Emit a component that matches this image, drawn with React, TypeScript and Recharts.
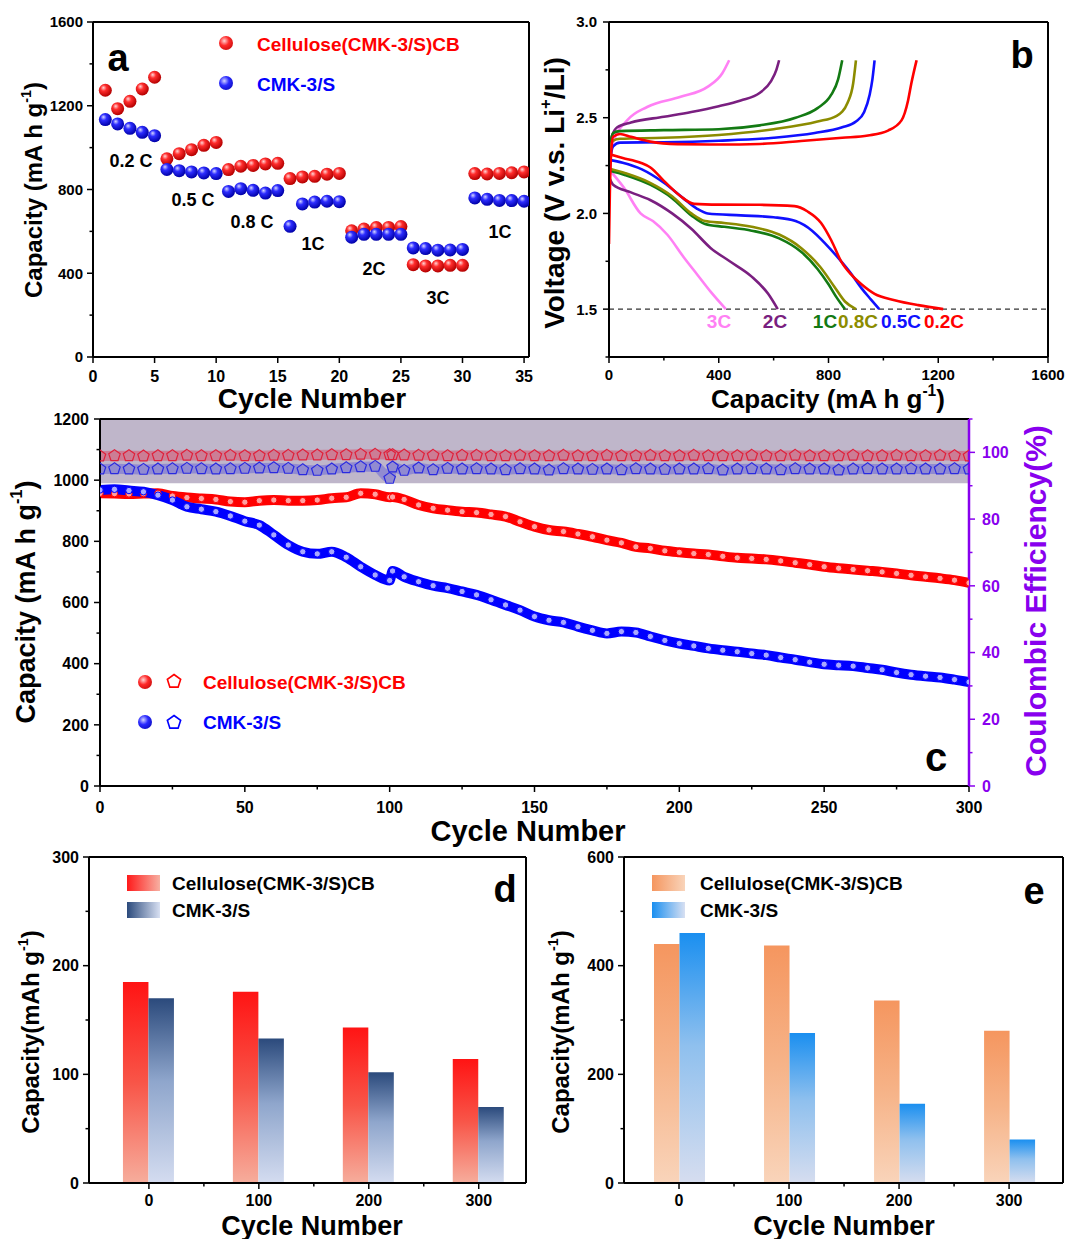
import React from 'react'
import {
  ScatterChart,
  Scatter,
  LineChart,
  Line,
  ComposedChart,
  BarChart,
  Bar,
  XAxis,
  YAxis,
  ReferenceLine,
  ReferenceArea,
} from 'recharts'

const FONT = 'Arial, "Liberation Sans", Helvetica, sans-serif'

// ---------- (a) rate capability ----------
const rateCycles = [1, 2, 3, 4, 5, 6, 7, 8, 9, 10, 11, 12, 13, 14, 15, 16, 17, 18, 19, 20, 21, 22, 23, 24, 25, 26, 27, 28, 29, 30, 31, 32, 33, 34, 35]
const rateCellulose = [1274, 1186, 1221, 1280, 1336, 947, 971, 990, 1011, 1025, 895, 911, 915, 922, 925, 852, 860, 863, 873, 877, 603, 611, 618, 619, 623, 441, 435, 435, 438, 438, 876, 874, 877, 880, 884]
const rateCmk = [1134, 1113, 1092, 1073, 1057, 896, 890, 884, 879, 876, 791, 804, 796, 783, 795, 624, 731, 740, 744, 742, 572, 586, 586, 586, 586, 521, 518, 510, 511, 514, 760, 753, 748, 747, 744]
const aXTicks = [0, 5, 10, 15, 20, 25, 30, 35]
const aYTicks = [0, 200, 400, 600, 800, 1000, 1200, 1400, 1600]
const aYMajor = [0, 400, 800, 1200, 1600]

// ---------- (b) charge / discharge profiles: [capacity, voltage] ----------
type Pt = [number, number]
const dis02: Pt[] = [[0, 2.31], [50, 2.29], [115, 2.265], [151, 2.24], [200, 2.17], [261, 2.09], [310, 2.05], [400, 2.046], [550, 2.045], [676, 2.038], [724, 2.01], [773, 1.95], [810, 1.86], [846, 1.75], [883, 1.68], [920, 1.63], [968, 1.58], [1041, 1.547], [1127, 1.521], [1218, 1.5]]
const chg02: Pt[] = [[0, 1.84], [3, 2.1], [8, 2.32], [15, 2.4], [40, 2.415], [80, 2.4], [150, 2.375], [250, 2.362], [400, 2.36], [550, 2.363], [700, 2.378], [850, 2.395], [944, 2.407], [1017, 2.433], [1066, 2.486], [1090, 2.59], [1102, 2.68], [1121, 2.8]]
const dis05: Pt[] = [[0, 2.28], [50, 2.265], [120, 2.23], [200, 2.16], [270, 2.08], [320, 2.025], [360, 2.0], [480, 1.99], [600, 1.98], [680, 1.96], [740, 1.91], [790, 1.84], [840, 1.76], [880, 1.69], [920, 1.61], [955, 1.55], [985, 1.5]]
const chg05: Pt[] = [[0, 2.1], [5, 2.28], [15, 2.35], [40, 2.37], [200, 2.372], [400, 2.38], [600, 2.395], [750, 2.42], [850, 2.45], [900, 2.48], [930, 2.53], [950, 2.62], [960, 2.7], [968, 2.8]]
const dis08: Pt[] = [[0, 2.235], [60, 2.21], [150, 2.16], [230, 2.09], [300, 2.0], [350, 1.96], [420, 1.95], [520, 1.93], [620, 1.89], [700, 1.82], [770, 1.72], [820, 1.62], [860, 1.54], [900, 1.5]]
const chg08: Pt[] = [[0, 2.22], [5, 2.34], [15, 2.38], [40, 2.39], [200, 2.395], [400, 2.41], [600, 2.44], [760, 2.48], [830, 2.51], [870, 2.58], [890, 2.68], [900, 2.8]]
const dis1: Pt[] = [[0, 2.225], [60, 2.2], [150, 2.15], [230, 2.08], [300, 1.99], [350, 1.945], [420, 1.93], [520, 1.91], [620, 1.87], [700, 1.8], [760, 1.71], [800, 1.63], [830, 1.56], [860, 1.5]]
const chg1: Pt[] = [[0, 2.2], [5, 2.36], [15, 2.42], [40, 2.43], [200, 2.435], [400, 2.44], [550, 2.46], [680, 2.5], [760, 2.55], [810, 2.62], [835, 2.7], [850, 2.8]]
const dis2: Pt[] = [[0, 2.19], [15, 2.15], [80, 2.11], [150, 2.07], [230, 2.0], [300, 1.92], [370, 1.82], [440, 1.75], [520, 1.67], [580, 1.58], [615, 1.5]]
const chg2: Pt[] = [[0, 2.3], [10, 2.4], [30, 2.45], [80, 2.475], [200, 2.505], [300, 2.53], [400, 2.56], [480, 2.59], [550, 2.63], [590, 2.69], [610, 2.75], [620, 2.8]]
const dis3: Pt[] = [[0, 2.23], [54, 2.135], [115, 2.0], [160, 1.96], [212, 1.89], [273, 1.77], [322, 1.68], [371, 1.59], [426, 1.5]]
const chg3: Pt[] = [[0, 2.25], [15, 2.37], [66, 2.486], [139, 2.556], [261, 2.609], [359, 2.661], [413, 2.732], [438, 2.8]]
const bXTicks = [0, 200, 400, 600, 800, 1000, 1200, 1400, 1600]
const bXMajor = [0, 400, 800, 1200, 1600]
const bYTicks = [1.25, 1.5, 1.75, 2.0, 2.25, 2.5, 2.75, 3.0]
const bYMajor = [1.5, 2.0, 2.5, 3.0]

const C_PINK = '#ff80f4'
const C_PURPLE = '#7a1f80'
const C_GREEN = '#137a13'
const C_OLIVE = '#8c8c00'
const C_BLUE = '#1010ff'
const C_RED = '#ff0000'

// ---------- (c) long cycling ----------
const cCycles = [0, 5, 10, 15, 20, 25, 30, 35, 40, 45, 50, 55, 60, 65, 70, 75, 80, 85, 90, 95, 100, 101, 105, 110, 115, 120, 125, 130, 135, 140, 145, 150, 155, 160, 165, 170, 175, 180, 185, 190, 195, 200, 205, 210, 215, 220, 225, 230, 235, 240, 245, 250, 255, 260, 265, 270, 275, 280, 285, 290, 295, 300]
const cCellulose = [
  957, 956, 955, 956, 957, 948, 943, 940, 937, 930,
  928, 933, 935, 933, 933, 935, 941, 944, 957, 954,
  944, 945, 937, 919, 908, 902, 897, 894, 888, 881,
  864, 848, 837, 832, 824, 815, 804, 795, 782, 777,
  769, 764, 760, 757, 751, 746, 744, 741, 736, 730,
  724, 717, 712, 708, 704, 700, 695, 689, 684, 679,
  673, 664,
]
const cCmk = [
  968, 970, 966, 962, 951, 935, 913, 905, 897, 883,
  866, 853, 821, 788, 766, 759, 766, 748, 717, 690,
  672, 703, 684, 668, 655, 647, 636, 625, 609, 592,
  575, 554, 542, 535, 521, 509, 499, 505, 502, 489,
  476, 466, 458, 450, 444, 439, 433, 428, 420, 413,
  405, 398, 395, 392, 386, 380, 371, 364, 359, 355,
  348, 340,
]
const cCelluloseCE = [
  98.9, 99.0, 99.0, 98.9, 99.0, 99.0, 99.1, 99.0, 99.0, 99.1,
  99.0, 99.0, 99.1, 99.1, 99.2, 99.2, 99.3, 99.3, 99.4, 99.4,
  99.3, 99.3, 99.2, 99.1, 99.1, 99.0, 99.1, 99.1, 99.0, 99.0,
  99.1, 99.0, 99.0, 99.1, 99.0, 99.0, 99.1, 99.0, 99.0, 99.1,
  99.0, 99.0, 99.1, 99.0, 99.0, 99.0, 99.1, 99.0, 99.0, 99.1,
  99.0, 99.0, 99.0, 99.1, 99.0, 99.0, 99.1, 99.0, 99.0, 99.1,
  99.0, 98.9,
]
const cCmkCE = [
  95.0, 95.1, 95.0, 94.9, 95.0, 95.1, 95.2, 95.1, 95.0, 95.1,
  95.2, 95.3, 95.4, 95.2, 94.8, 94.6, 95.0, 95.4, 95.7, 95.8,
  92.2, 95.6, 94.6, 95.3, 94.8, 95.2, 95.0, 95.1, 95.0, 94.8,
  95.1, 95.0, 94.7, 95.1, 95.0, 94.9, 95.0, 94.8, 95.1, 95.0,
  94.9, 95.0, 95.0, 95.1, 94.7, 95.0, 95.1, 95.0, 94.8, 95.1,
  95.0, 95.0, 94.7, 95.0, 95.1, 95.0, 95.0, 95.1, 95.0, 95.0,
  95.1, 95.0,
]
const cXTicks = [0, 25, 50, 75, 100, 125, 150, 175, 200, 225, 250, 275, 300]
const cXMajor = [0, 50, 100, 150, 200, 250, 300]
const cYTicks = [0, 100, 200, 300, 400, 500, 600, 700, 800, 900, 1000, 1100, 1200]
const cYMajor = [0, 200, 400, 600, 800, 1000, 1200]
const cRTicks = [0, 10, 20, 30, 40, 50, 60, 70, 80, 90, 100, 110]
const cRMajor = [0, 20, 40, 60, 80, 100]
const C_VIOLET = '#8800ee'

// ---------- (d), (e) capacity at selected cycles ----------
const barCycles = [0, 100, 200, 300]
const dCellulose = [185, 176, 143, 114]
const dCmk = [170, 133, 102, 70]
const eCellulose = [440, 437, 336, 280]
const eCmk = [460, 276, 146, 80]
const barXTicks = [0, 50, 100, 150, 200, 250, 300]
const dYTicks = [0, 50, 100, 150, 200, 250, 300]
const dYMajor = [0, 100, 200, 300]
const eYTicks = [0, 100, 200, 300, 400, 500, 600]
const eYMajor = [0, 200, 400, 600]

// ---------- helpers ----------
type Side = 'bottom' | 'left' | 'right'

function tickRenderer(side: Side, majors: number[], size: number, gap: number, color = '#000', digits = 0) {
  return (props: any) => {
    const { x, y, payload } = props
    const v = Number(payload.value)
    const major = majors.some((m) => Math.abs(m - v) < 1e-6)
    const len = major ? 6 : 3.5
    const txt = { fontFamily: FONT, fontWeight: 700, fontSize: size, fill: color }
    if (side === 'bottom') {
      return (
        <g>
          <line x1={x} x2={x} y1={y} y2={y + len} stroke={color} strokeWidth={1.5} />
          {major && (
            <text x={x} y={y + gap} dy="0.36em" textAnchor="middle" {...txt}>
              {v.toFixed(digits)}
            </text>
          )}
        </g>
      )
    }
    const dir = side === 'left' ? -1 : 1
    return (
      <g>
        <line x1={x} x2={x + dir * len} y1={y} y2={y} stroke={color} strokeWidth={1.5} />
        {major && (
          <text x={x + dir * gap} y={y} dy="0.36em" textAnchor={side === 'left' ? 'end' : 'start'} {...txt}>
            {v.toFixed(digits)}
          </text>
        )}
      </g>
    )
  }
}

const axisBase = {
  tickLine: false,
  tickSize: 0,
  tickMargin: 0,
  interval: 0 as const,
  allowDataOverflow: true,
  axisLine: { stroke: '#000', strokeWidth: 2 },
}

const pentagon = (cx: number, cy: number, r: number) =>
  [0, 1, 2, 3, 4]
    .map((k) => {
      const a = ((-90 + 72 * k) * Math.PI) / 180
      return `${cx + r * Math.cos(a)},${cy + r * Math.sin(a)}`
    })
    .join(' ')

const ball = (fill: string) => (p: any) => <circle cx={p.cx} cy={p.cy} r={6.5} fill={fill} />

const pentDot = (stroke: string) => (p: any) => (
  <polygon key={`p-${p.index}`} points={pentagon(p.cx, p.cy, 6)} fill="none" stroke={stroke} strokeWidth={1.2} />
)

function T({ x, y, size, color = '#000', anchor = 'middle', rotate = false, children }: {
  x: number; y: number; size: number; color?: string; anchor?: 'middle' | 'start'; rotate?: boolean; children: React.ReactNode
}) {
  const tx = anchor === 'middle' ? '-50%' : '0'
  return (
    <div
      style={{
        position: 'absolute',
        left: x,
        top: y,
        transform: `translate(${tx}, -50%)${rotate ? ' rotate(-90deg)' : ''}`,
        fontFamily: FONT,
        fontWeight: 700,
        fontSize: size,
        color,
        lineHeight: 1,
        whiteSpace: 'nowrap',
      }}
    >
      {children}
    </div>
  )
}

const Sup = ({ children }: { children: React.ReactNode }) => (
  <sup style={{ fontSize: '0.6em', lineHeight: 0, verticalAlign: '0.75em' }}>{children}</sup>
)

function BallIcon({ x, y, red }: { x: number; y: number; red: boolean }) {
  const bg = red
    ? 'radial-gradient(circle at 38% 35%, #ffd4d4 0%, #ff2a2a 38%, #b40000 100%)'
    : 'radial-gradient(circle at 38% 35%, #d4d4ff 0%, #2a2aff 38%, #0000a8 100%)'
  return <div style={{ position: 'absolute', left: x - 7, top: y - 7, width: 14, height: 14, borderRadius: '50%', background: bg }} />
}

function PentIcon({ x, y, color }: { x: number; y: number; color: string }) {
  return (
    <svg style={{ position: 'absolute', left: x - 9, top: y - 9 }} width={18} height={18}>
      <polygon points={pentagon(9, 9.5, 7)} fill="none" stroke={color} strokeWidth={1.6} />
    </svg>
  )
}

function Swatch({ x, y, from, to }: { x: number; y: number; from: string; to: string }) {
  return <div style={{ position: 'absolute', left: x, top: y, width: 33, height: 16, background: `linear-gradient(to right, ${from}, ${to})` }} />
}

// ---------- panels ----------
function PanelA() {
  const cel = rateCycles.map((c, i) => ({ cycle: c, cap: rateCellulose[i] }))
  const cmk = rateCycles.map((c, i) => ({ cycle: c, cap: rateCmk[i] }))
  return (
    <>
      <div style={{ position: 'absolute', left: 0, top: 0 }}>
        <ScatterChart width={540} height={410} margin={{ top: 22, right: 11, bottom: 28, left: 33 }}>
          <defs>
            <radialGradient id="ballRed" cx="0.4" cy="0.38" r="0.62" fx="0.35" fy="0.3">
              <stop offset="0" stopColor="#ffd6d6" />
              <stop offset="0.38" stopColor="#ff2d2d" />
              <stop offset="1" stopColor="#b40000" />
            </radialGradient>
            <radialGradient id="ballBlue" cx="0.4" cy="0.38" r="0.62" fx="0.35" fy="0.3">
              <stop offset="0" stopColor="#d6d6ff" />
              <stop offset="0.38" stopColor="#2d2dff" />
              <stop offset="1" stopColor="#0000a8" />
            </radialGradient>
          </defs>
          <XAxis type="number" dataKey="cycle" domain={[0, 35.4]} ticks={aXTicks} height={25} {...axisBase} tick={tickRenderer('bottom', aXTicks, 16, 19)} />
          <YAxis type="number" dataKey="cap" domain={[0, 1600]} ticks={aYTicks} width={60} {...axisBase} tick={tickRenderer('left', aYMajor, 15, 10)} />
          <ReferenceLine y={1600} stroke="#000" strokeWidth={2} />
          <ReferenceLine x={35.4} stroke="#000" strokeWidth={2} />
          <Scatter data={cel} shape={ball('url(#ballRed)')} isAnimationActive={false} />
          <Scatter data={cmk} shape={ball('url(#ballBlue)')} isAnimationActive={false} />
        </ScatterChart>
      </div>
      <T x={118} y={58} size={38}>a</T>
      <BallIcon x={226} y={43} red />
      <T x={257} y={44} size={19} color="#ff0000" anchor="start">Cellulose(CMK-3/S)CB</T>
      <BallIcon x={226} y={83} red={false} />
      <T x={257} y={84} size={19} color="#0000ff" anchor="start">CMK-3/S</T>
      <T x={131} y={161} size={18}>0.2 C</T>
      <T x={193} y={200} size={18}>0.5 C</T>
      <T x={252} y={222} size={18}>0.8 C</T>
      <T x={313} y={244} size={18}>1C</T>
      <T x={374} y={269} size={18}>2C</T>
      <T x={438} y={298} size={18}>3C</T>
      <T x={500} y={232} size={18}>1C</T>
      <T x={34} y={190} size={24} rotate>Capacity (mA h g<Sup>-1</Sup>)</T>
      <T x={312} y={399} size={28}>Cycle Number</T>
    </>
  )
}

function PanelB() {
  const curves: { pts: Pt[]; color: string }[] = [
    { pts: dis3, color: C_PINK }, { pts: chg3, color: C_PINK },
    { pts: dis2, color: C_PURPLE }, { pts: chg2, color: C_PURPLE },
    { pts: dis1, color: C_GREEN }, { pts: chg1, color: C_GREEN },
    { pts: dis08, color: C_OLIVE }, { pts: chg08, color: C_OLIVE },
    { pts: dis05, color: C_BLUE }, { pts: chg05, color: C_BLUE },
    { pts: dis02, color: C_RED }, { pts: chg02, color: C_RED },
  ]
  return (
    <>
      <div style={{ position: 'absolute', left: 540, top: 0 }}>
        <LineChart width={525} height={410} margin={{ top: 22, right: 17, bottom: 28, left: 29 }}>
          <XAxis type="number" dataKey="cap" domain={[0, 1600]} ticks={bXTicks} height={25} {...axisBase} tick={tickRenderer('bottom', bXMajor, 15, 18)} />
          <YAxis type="number" domain={[1.25, 3]} ticks={bYTicks} width={40} {...axisBase} tick={tickRenderer('left', bYMajor, 15, 12, '#000', 1)} />
          <ReferenceLine y={3} stroke="#000" strokeWidth={2} />
          <ReferenceLine x={1600} stroke="#000" strokeWidth={2} />
          <ReferenceLine y={1.5} stroke="#333" strokeWidth={1.3} strokeDasharray="5 4" />
          {curves.map((c, i) => (
            <Line
              key={i}
              data={c.pts.map(([cap, v]) => ({ cap, v }))}
              dataKey="v"
              type="monotone"
              stroke={c.color}
              strokeWidth={2.6}
              dot={false}
              isAnimationActive={false}
            />
          ))}
        </LineChart>
      </div>
      <T x={1022} y={55} size={38}>b</T>
      <T x={719} y={321} size={19} color={C_PINK}>3C</T>
      <T x={775} y={321} size={19} color={C_PURPLE}>2C</T>
      <T x={825} y={321} size={19} color={C_GREEN}>1C</T>
      <T x={858} y={321} size={19} color={C_OLIVE}>0.8C</T>
      <T x={901} y={321} size={19} color={C_BLUE}>0.5C</T>
      <T x={944} y={321} size={19} color={C_RED}>0.2C</T>
      <T x={555} y={193} size={28} rotate>Voltage (V v.s. Li<Sup>+</Sup>/Li)</T>
      <T x={828} y={399} size={26}>Capacity (mA h g<Sup>-1</Sup>)</T>
    </>
  )
}

function PanelC() {
  const rows = cCycles.map((c, i) => ({
    cycle: c,
    cel: cCellulose[i],
    cmk: cCmk[i],
    celCE: cCelluloseCE[i],
    cmkCE: cCmkCE[i],
  }))
  return (
    <>
      <div style={{ position: 'absolute', left: 0, top: 410 }}>
        <ComposedChart width={1065} height={440} data={rows} margin={{ top: 9, right: 56, bottom: 39, left: 50 }}>
          <XAxis type="number" dataKey="cycle" domain={[0, 300]} ticks={cXTicks} height={25} {...axisBase} tick={tickRenderer('bottom', cXMajor, 16, 21)} />
          <YAxis yAxisId="cap" type="number" domain={[0, 1200]} ticks={cYTicks} width={50} {...axisBase} tick={tickRenderer('left', cYMajor, 16, 11)} />
          <YAxis
            yAxisId="ce"
            orientation="right"
            type="number"
            domain={[0, 110]}
            ticks={cRTicks}
            width={40}
            {...axisBase}
            axisLine={{ stroke: C_VIOLET, strokeWidth: 2.5 }}
            tick={tickRenderer('right', cRMajor, 16, 13, C_VIOLET)}
          />
          <ReferenceArea yAxisId="cap" y1={990} y2={1200} fill="#bfb6ca" fillOpacity={1} stroke="none" />
          <ReferenceLine yAxisId="cap" y={1200} stroke="#000" strokeWidth={2} />
          <Line yAxisId="ce" dataKey="celCE" type="monotone" stroke="rgba(225,40,70,0.4)" strokeWidth={10} dot={pentDot('#e0203a')} isAnimationActive={false} />
          <Line yAxisId="ce" dataKey="cmkCE" type="monotone" stroke="rgba(40,40,225,0.3)" strokeWidth={10} dot={pentDot('#2a2ae0')} isAnimationActive={false} />
          <Line yAxisId="cap" dataKey="cel" type="monotone" stroke="#ff0000" strokeWidth={10} dot={{ r: 3.2, fill: '#ffa0a0', stroke: '#ff0000', strokeWidth: 1 }} isAnimationActive={false} />
          <Line yAxisId="cap" dataKey="cmk" type="monotone" stroke="#0000ff" strokeWidth={10} dot={{ r: 3.2, fill: '#a8a8ff', stroke: '#0000ff', strokeWidth: 1 }} isAnimationActive={false} />
        </ComposedChart>
      </div>
      <BallIcon x={145} y={682} red />
      <PentIcon x={174} y={681} color="#ff0000" />
      <T x={203} y={682} size={19} color="#ff0000" anchor="start">Cellulose(CMK-3/S)CB</T>
      <BallIcon x={145} y={722} red={false} />
      <PentIcon x={174} y={722} color="#0000ff" />
      <T x={203} y={722} size={19} color="#0000ff" anchor="start">CMK-3/S</T>
      <T x={936} y={757} size={40}>c</T>
      <T x={26} y={602} size={27} rotate>Capacity (mA h g<Sup>-1</Sup>)</T>
      <T x={528} y={831} size={29}>Cycle Number</T>
      <T x={1036} y={601} size={30} color={C_VIOLET} rotate>Coulombic Efficiency(%)</T>
    </>
  )
}

function BarPanel({
  left, width, marginLeft, marginRight, domain, cel, cmk, yMax, yTicks, yMajor, ids, colors,
}: {
  left: number; width: number; marginLeft: number; marginRight: number; domain: [number, number]
  cel: number[]; cmk: number[]; yMax: number; yTicks: number[]; yMajor: number[]
  ids: [string, string]; colors: { cel: string[]; cmk: string[] }
}) {
  const rows = barCycles.map((c, i) => ({ cycle: c, cel: cel[i], cmk: cmk[i] }))
  return (
    <div style={{ position: 'absolute', left, top: 845 }}>
      <BarChart width={width} height={394} data={rows} barGap={0} barSize={25.5} margin={{ top: 12, right: marginRight, bottom: 31, left: marginLeft }}>
        <defs>
          <linearGradient id={ids[0]} x1="0" y1="0" x2="0" y2="1">
            <stop offset="0" stopColor={colors.cel[0]} />
            <stop offset="0.5" stopColor={colors.cel[1]} />
            <stop offset="1" stopColor={colors.cel[2]} />
          </linearGradient>
          <linearGradient id={ids[1]} x1="0" y1="0" x2="0" y2="1">
            <stop offset="0" stopColor={colors.cmk[0]} />
            <stop offset="0.45" stopColor={colors.cmk[1]} />
            <stop offset="1" stopColor={colors.cmk[2]} />
          </linearGradient>
        </defs>
        <XAxis type="number" dataKey="cycle" domain={domain} ticks={barXTicks} height={25} {...axisBase} tick={tickRenderer('bottom', barCycles, 16, 17)} />
        <YAxis type="number" domain={[0, yMax]} ticks={yTicks} width={50} {...axisBase} tick={tickRenderer('left', yMajor, 16, 10)} />
        <ReferenceLine y={yMax} stroke="#000" strokeWidth={2} />
        <ReferenceLine x={domain[1]} stroke="#000" strokeWidth={2} />
        <Bar dataKey="cel" fill={`url(#${ids[0]})`} isAnimationActive={false} />
        <Bar dataKey="cmk" fill={`url(#${ids[1]})`} isAnimationActive={false} />
      </BarChart>
    </div>
  )
}

function PanelD() {
  return (
    <>
      <BarPanel
        left={0} width={540} marginLeft={39} marginRight={14} domain={[-54.5, 343]}
        cel={dCellulose} cmk={dCmk} yMax={300} yTicks={dYTicks} yMajor={dYMajor}
        ids={['dCel', 'dCmk']}
        colors={{ cel: ['#ff1414', '#f85548', '#f6ad9c'], cmk: ['#2b4a7c', '#8fa6cc', '#d4dcf0'] }}
      />
      <Swatch x={127} y={875} from="#ff1a1a" to="#f7b0a2" />
      <T x={172} y={883} size={19} anchor="start">Cellulose(CMK-3/S)CB</T>
      <Swatch x={127} y={902} from="#2b4a7c" to="#d8e0f2" />
      <T x={172} y={910} size={19} anchor="start">CMK-3/S</T>
      <T x={505} y={889} size={38}>d</T>
      <T x={31} y={1032} size={24} rotate>Capacity(mAh g<Sup>-1</Sup>)</T>
      <T x={312} y={1226} size={27}>Cycle Number</T>
    </>
  )
}

function PanelE() {
  return (
    <>
      <BarPanel
        left={530} width={535} marginLeft={44} marginRight={2} domain={[-50, 349]}
        cel={eCellulose} cmk={eCmk} yMax={600} yTicks={eYTicks} yMajor={eYMajor}
        ids={['eCel', 'eCmk']}
        colors={{ cel: ['#f5965f', '#f6b388', '#f9d4ba'], cmk: ['#1a8ff0', '#8fc0ee', '#d6ddef'] }}
      />
      <Swatch x={652} y={875} from="#f5965f" to="#f9d4ba" />
      <T x={700} y={883} size={19} anchor="start">Cellulose(CMK-3/S)CB</T>
      <Swatch x={652} y={902} from="#1a8ff0" to="#d8e0f2" />
      <T x={700} y={910} size={19} anchor="start">CMK-3/S</T>
      <T x={1034} y={891} size={38}>e</T>
      <T x={561} y={1032} size={24} rotate>Capacity(mAh g<Sup>-1</Sup>)</T>
      <T x={844} y={1226} size={27}>Cycle Number</T>
    </>
  )
}

export default function App() {
  return (
    <div
      style={{
        position: 'absolute',
        left: 0,
        top: 0,
        width: 1065,
        height: 1239,
        background: '#fff',
        overflow: 'hidden',
        fontFamily: FONT,
      }}
    >
      <PanelA />
      <PanelB />
      <PanelC />
      <PanelD />
      <PanelE />
    </div>
  )
}
